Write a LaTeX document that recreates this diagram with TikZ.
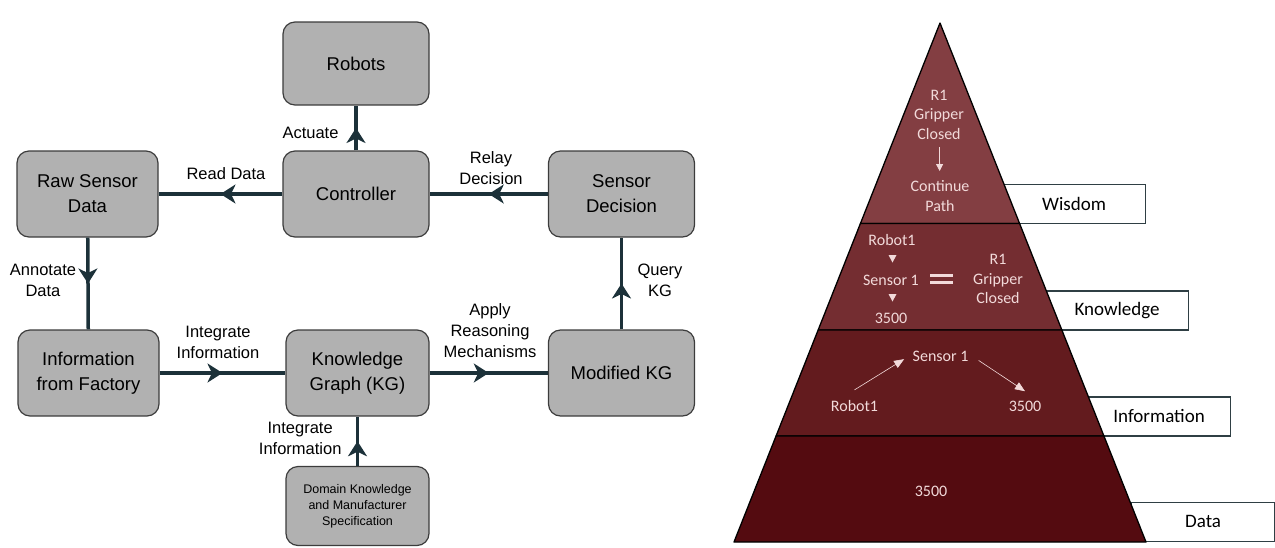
\documentclass[tikz,border=0pt]{standalone}
\usepackage{fontspec}
\setmainfont{Liberation Sans}
\newfontfamily\calib{Carlito}
\usetikzlibrary{arrows.meta,positioning,calc,decorations.markings}

\definecolor{boxgray}{HTML}{B1B1B1}
\definecolor{boxline}{HTML}{3C3C3C}
\definecolor{flowcol}{HTML}{1C3139}
\definecolor{tagline}{HTML}{2F3F44}
\definecolor{wiscol}{HTML}{833E42}
\definecolor{knowcol}{HTML}{742D31}
\definecolor{infocol}{HTML}{631B1E}
\definecolor{datacol}{HTML}{540B10}
\definecolor{pyrtext}{HTML}{F2DADA}

\begin{document}
\begin{tikzpicture}[x=1pt,y=-1pt,
    box/.style={draw=boxline, line width=1.2pt, fill=boxgray, rounded corners=12pt,
      align=center, inner sep=2pt, font=\fontsize{18.5}{25}\selectfont},
    flow/.style={line width=3.5pt, draw=flowcol, postaction={decorate},
      decoration={markings, mark=at position 0.5 with
        {\arrow[flowcol]{Stealth[length=15pt,width=19pt,inset=4.5pt]}}}},
    lbl/.style={align=center, font=\fontsize{16.5}{21}\selectfont},
    tag/.style={draw=tagline, line width=1.2pt, fill=white, anchor=south west,
      minimum width=143pt, minimum height=39pt, font=\calib\fontsize{19}{20}\selectfont},
    pyr/.style={draw=black, line width=1.3pt, line join=round},
    ptxt/.style={text=pyrtext, align=center, font=\calib\fontsize{16}{19.6}\selectfont},
    parrow/.style={draw=pyrtext, line width=0.8pt, -{Triangle[length=7pt,width=7pt]}}
  ]
  \useasboundingbox (0,0) rectangle (1275,547);

  % flow diagram
  \node[box, minimum width=146pt, minimum height=83pt] (robots) at (356,63.5) {Robots};
  \node[box, minimum width=141pt, minimum height=86pt] (raw) at (87.5,194) {Raw Sensor\\Data};
  \node[box, minimum width=146pt, minimum height=86pt] (ctrl) at (356,194) {Controller};
  \node[box, minimum width=146pt, minimum height=86pt] (sdec) at (621.5,194) {Sensor\\Decision};
  \node[box, minimum width=141pt, minimum height=86pt] (info) at (88.5,373) {Information\\from Factory};
  \node[box, minimum width=143pt, minimum height=86pt] (kg) at (357.5,373) {Knowledge\\Graph (KG)};
  \node[box, minimum width=146pt, minimum height=86pt] (mkg) at (621.5,373) {Modified KG};
  \node[box, minimum width=143pt, minimum height=79pt, font=\fontsize{12.5}{16}\selectfont]
    (dom) at (357.5,506) {Domain Knowledge\\and Manufacturer\\Specification};

  \draw[flow] (ctrl) -- (robots);
  \draw[flow] (ctrl) -- (raw);
  \draw[flow] (sdec) -- (ctrl);
  \draw[flow] (raw) -- (info);
  \draw[flow] (info) -- (kg);
  \draw[flow] (kg) -- (mkg);
  \draw[flow] (mkg) -- (sdec);
  \draw[flow] (dom) -- (kg);

  \node[lbl, anchor=east] (lact) at (342,133) {Actuate};
  \node[lbl] (lread) at (226,174) {Read Data};
  \node[lbl] (lrelay) at (491,168) {Relay\\Decision};
  \node[lbl] (lannot) at (43,280) {Annotate\\Data};
  \node[lbl] (lquery) at (660,280) {Query\\KG};
  \node[lbl] (lint) at (218,342) {Integrate\\Information};
  \node[lbl] (lapply) at (490,331) {Apply\\Reasoning\\Mechanisms};
  \node[lbl, anchor=east] (lint2) at (345,438) {Integrate\\Information};

  % pyramid
  \node[tag] (twis) at (1002,224) {Wisdom};
  \node[tag] (tknow) at (1045,330.5) {Knowledge};
  \node[tag] (tinfo) at (1087,436.5) {Information};
  \node[tag] (tdata) at (1131,542) {Data};

  \coordinate (apex) at (940,23);
  \coordinate (bl) at (734,542);
  \coordinate (br) at (1146,542);
  \foreach \a/\b/\c in {0/0.3863/wiscol, 0.3863/0.5915/knowcol,
                        0.5915/0.7958/infocol, 0.7958/1/datacol}
    \filldraw[pyr, fill=\c] ($(apex)!\a!(bl)$) -- ($(apex)!\b!(bl)$)
      -- ($(apex)!\b!(br)$) -- ($(apex)!\a!(br)$) -- cycle;

  % wisdom
  \node[ptxt] (wr1) at (939,114.7) {R1\\Gripper\\Closed};
  \node[ptxt] (wcont) at (940,196) {Continue\\Path};
  \draw[parrow, shorten <=4pt, shorten >=6pt] (wr1) -- (wcont);

  % knowledge
  \node[ptxt] (krob) at (892,240) {Robot1};
  \node[ptxt] (ksens) at (891,280.7) {Sensor 1};
  \node[ptxt] (k3500) at (891,318.6) {3500};
  \node[ptxt] (kr1) at (998,279) {R1\\Gripper\\Closed};
  \foreach \ty in {255,294}
    \fill[pyrtext] (888.5,\ty) -- (896.5,\ty) -- (892.5,\ty+7.5) -- cycle;
  \fill[pyrtext] (930,273.8) rectangle (953,276.8);
  \fill[pyrtext] (930,280.5) rectangle (953,283.5);

  % information
  \node[ptxt] (isens) at (940.6,356) {Sensor 1};
  \node[ptxt] (irob) at (854.5,406) {Robot1};
  \node[ptxt] (i3500) at (1025,406) {3500};
  \draw[parrow, line width=0.6pt, -{Triangle[length=10pt,width=8pt]}, shorten >=6pt]
    ($(irob.north)+(0,-7)$) -- (isens.west);
  \draw[parrow, line width=0.6pt, -{Triangle[length=10pt,width=8pt]}, shorten <=8pt]
    (isens.east) -- ($(i3500.north)+(0,-6)$);

  % data
  \node[ptxt] (d3500) at (931,491) {3500};
\end{tikzpicture}
\end{document}
